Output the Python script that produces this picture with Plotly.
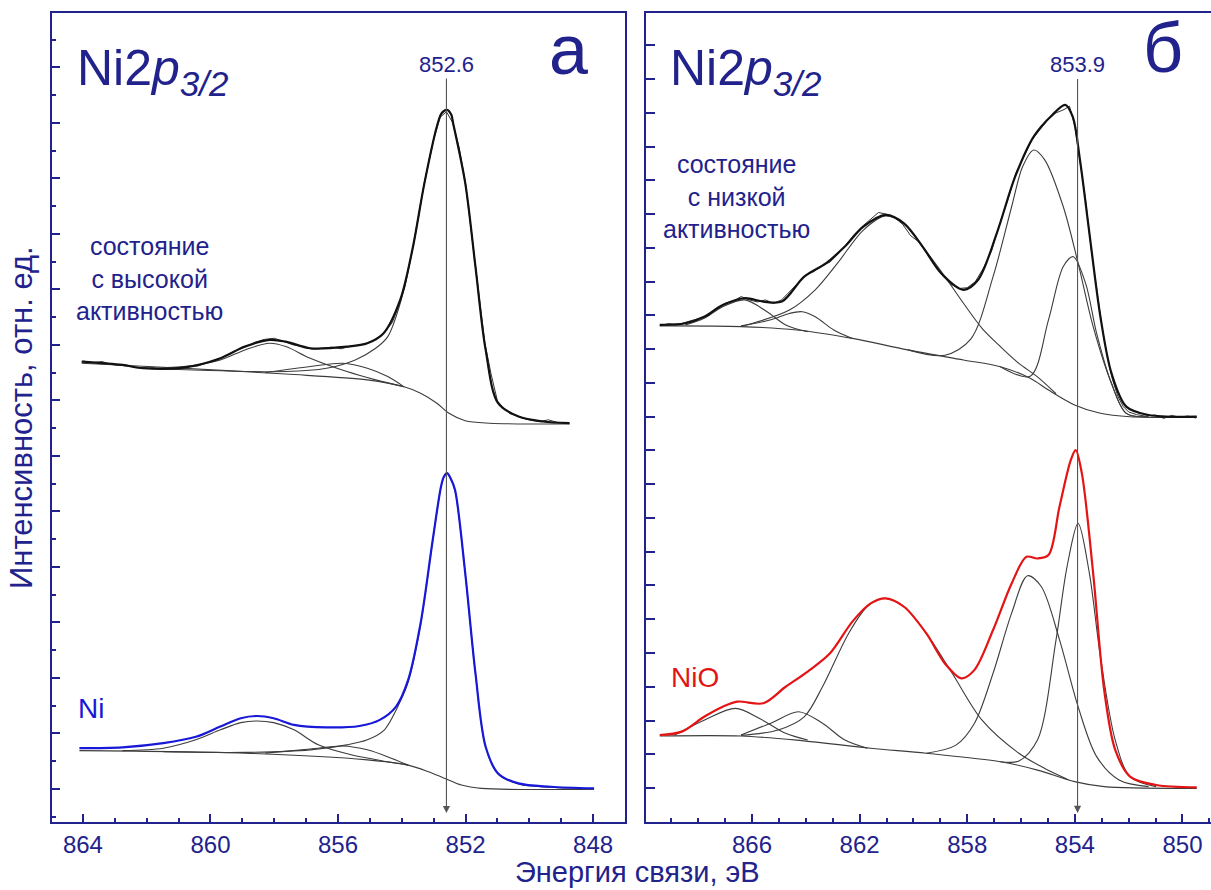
import plotly.graph_objects as go

# ---------------- Panel "а" (binding energy, eV / intensity, rel. units) ----------------
# top: high-activity state
A_TOP_FIT_E = [864.04, 862.76, 862.12, 860.84, 859.69, 858.92, 858.15, 857.64, 856.87, 855.72, 855.08,
               854.57, 854.05, 853.67, 853.29, 852.90, 852.75, 852.58, 852.45, 852.39, 852.01, 851.69,
               851.37, 850.98, 850.34, 849.57, 848.74]
A_TOP_FIT_I = [15.40, 15.28, 15.16, 15.18, 15.52, 15.94, 16.18, 16.12, 15.88, 15.94, 16.06,
               16.42, 17.62, 19.42, 21.83, 23.87, 24.35, 24.47, 24.30, 23.99, 21.83, 18.82,
               15.82, 13.90, 13.42, 13.24, 13.18]
A_TOP_RAW_E = [864.0, 863.7, 863.4, 863.1, 862.8, 862.5, 862.2, 861.9, 861.6, 861.3, 861.0, 860.7, 860.4,
               860.1, 859.8, 859.5, 859.2, 858.9, 858.6, 858.3, 858.0, 857.7, 857.4, 857.1, 856.8, 856.5,
               856.2, 855.9, 855.6, 855.3, 855.0, 854.7, 854.5, 854.3, 854.1, 853.9, 853.6, 853.3, 853.0,
               852.8, 852.6, 852.4, 852.2, 852.0, 851.8, 851.6, 851.4, 851.2, 851.0, 850.8, 850.6, 850.4,
               850.2, 850.0, 849.7, 849.4, 849.1, 848.8]
A_TOP_RAW_I = [15.42, 15.36, 15.40, 15.30, 15.26, 15.22, 15.18, 15.20, 15.14, 15.19, 15.16, 15.22, 15.24,
               15.36, 15.44, 15.62, 15.80, 15.92, 16.10, 16.20, 16.24, 16.12, 16.00, 15.94, 15.84, 15.88,
               15.92, 15.86, 15.96, 16.00, 16.10, 16.30, 16.52, 16.80, 17.40, 18.10, 19.80, 21.80, 23.40,
               24.20, 24.40, 24.00, 23.10, 21.80, 19.90, 17.95, 16.10, 14.95, 13.98, 13.72, 13.52, 13.46,
               13.36, 13.30, 13.24, 13.30, 13.20, 13.18]
A_TOP_BG_E = [864.04, 860.84, 857.64, 855.08, 853.93, 853.41, 852.90, 852.52, 852.01, 851.24, 848.74]
A_TOP_BG_I = [15.34, 15.16, 14.95, 14.74, 14.49, 14.26, 13.90, 13.54, 13.27, 13.18, 13.15]
A_TOP_SAT1_E = [862.12, 860.84, 859.69, 858.92, 858.15, 857.64, 856.87, 855.72, 854.82, 853.93]
A_TOP_SAT1_I = [15.16, 15.22, 15.46, 15.82, 16.06, 15.94, 15.52, 15.04, 14.74, 14.49]
A_TOP_SAT2_E = [858.28, 856.87, 855.85, 855.08, 854.44, 853.93]
A_TOP_SAT2_I = [15.00, 15.22, 15.34, 15.16, 14.86, 14.49]
A_TOP_MAIN_E = [862.12, 857.64, 856.36, 855.46, 854.82, 854.44, 854.05, 853.67, 853.29, 852.90, 852.75,
                852.58, 852.45, 852.39, 852.01, 851.69, 851.37, 850.98, 850.34, 849.57, 848.74]
A_TOP_MAIN_I = [15.16, 15.04, 15.16, 15.46, 15.88, 16.30, 17.50, 19.42, 21.83, 23.87, 24.35,
                24.47, 24.30, 23.99, 21.83, 18.82, 15.82, 13.90, 13.42, 13.24, 13.18]

# bottom: metallic Ni reference
A_NI_E = [864.11, 862.76, 861.48, 860.46, 859.69, 859.05, 858.54, 858.02, 857.38, 856.36, 855.33, 854.69,
          854.18, 853.80, 853.41, 853.03, 852.77, 852.68, 852.58, 852.47, 852.33, 852.01, 851.69, 851.37,
          850.98, 850.34, 849.32, 847.97]
A_NI_I = [1.47, 1.50, 1.65, 1.88, 2.25, 2.55, 2.63, 2.55, 2.31, 2.22, 2.27, 2.49,
          2.97, 3.93, 5.97, 8.97, 10.90, 11.25, 11.38, 11.20, 10.77, 7.77, 4.17, 1.52,
          0.56, 0.20, 0.08, 0.02]
A_BOT_BG_E = [864.11, 858.92, 855.08, 853.80, 853.16, 852.65, 852.13, 851.50, 847.97]
A_BOT_BG_I = [1.38, 1.29, 1.05, 0.86, 0.62, 0.38, 0.14, 0.02, -0.01]
A_BOT_SAT1_E = [862.76, 861.48, 860.46, 859.69, 859.05, 858.54, 858.02, 857.38, 856.62, 855.59, 854.44, 853.80]
A_BOT_SAT1_I = [1.38, 1.47, 1.77, 2.13, 2.39, 2.45, 2.39, 2.13, 1.59, 1.23, 0.98, 0.86]
A_BOT_SAT2_E = [858.28, 856.87, 855.85, 855.08, 854.31, 853.80]
A_BOT_SAT2_I = [1.29, 1.44, 1.55, 1.41, 1.10, 0.86]
A_BOT_MAIN_E = [861.48, 858.92, 856.87, 855.72, 855.08, 854.57, 854.05, 853.80, 853.41, 853.03, 852.77,
                852.68, 852.58, 852.47, 852.33, 852.01, 851.69, 851.37, 850.98, 850.34, 849.32, 847.97]
A_BOT_MAIN_I = [1.34, 1.32, 1.41, 1.59, 1.77, 2.10, 3.15, 3.85, 5.92, 8.95, 10.88,
                11.23, 11.36, 11.18, 10.75, 7.75, 4.15, 1.50, 0.54, 0.18, 0.06, 0.00]

# ---------------- Panel "б" ----------------
# top: low-activity state
B_TOP_FIT_E = [869.43, 868.47, 867.78, 867.09, 866.27, 865.58, 864.89, 864.06, 863.24, 862.55, 861.86,
               861.03, 860.35, 859.66, 858.97, 858.14, 857.60, 856.90, 856.22, 855.53, 854.84, 854.36,
               854.08, 853.81, 853.46, 853.05, 852.64, 852.09, 851.26, 849.47]
B_TOP_FIT_I = [13.72, 13.77, 13.96, 14.31, 14.51, 14.41, 14.41, 15.15, 15.55, 16.04, 16.63,
               16.98, 16.73, 16.04, 15.25, 14.76, 15.05, 16.44, 18.11, 19.30, 19.94, 20.24,
               19.89, 18.61, 16.44, 13.96, 12.29, 11.30, 11.05, 11.00]
B_TOP_RAW_E = [869.4, 869.1, 868.8, 868.5, 868.2, 867.9, 867.6, 867.3, 867.0, 866.7, 866.4, 866.1, 865.8,
               865.5, 865.2, 864.9, 864.6, 864.3, 864.0, 863.7, 863.4, 863.1, 862.8, 862.5, 862.2, 861.9,
               861.6, 861.3, 861.0, 860.7, 860.4, 860.1, 859.8, 859.5, 859.2, 858.9, 858.6, 858.3, 858.0,
               857.7, 857.4, 857.1, 856.8, 856.5, 856.2, 855.9, 855.6, 855.3, 855.0, 854.7, 854.4, 854.2,
               854.0, 853.8, 853.6, 853.4, 853.2, 853.0, 852.8, 852.6, 852.4, 852.2, 852.0, 851.7, 851.4,
               851.0, 850.7, 850.4, 850.1, 849.8, 849.5]
B_TOP_RAW_I = [13.70, 13.76, 13.72, 13.80, 13.86, 13.92, 14.00, 14.20, 14.36, 14.42, 14.56, 14.46, 14.40,
               14.46, 14.36, 14.46, 14.70, 14.96, 15.20, 15.30, 15.48, 15.58, 15.82, 16.10, 16.40, 16.64,
               16.84, 17.05, 17.00, 16.90, 16.70, 16.36, 16.18, 15.84, 15.50, 15.16, 14.92, 14.80, 14.82,
               15.00, 15.40, 15.90, 16.70, 17.40, 18.20, 18.70, 19.20, 19.50, 19.80, 20.00, 20.10, 20.20,
               19.60, 18.50, 17.40, 16.00, 14.80, 13.70, 12.80, 12.10, 11.60, 11.30, 11.14, 11.06, 11.02,
               11.05, 10.95, 11.04, 10.98, 11.02, 10.96]
B_TOP_BG_E = [869.43, 866.41, 864.34, 862.27, 860.21, 858.14, 856.77, 855.66, 854.98, 854.01, 853.05, 851.95, 849.47]
B_TOP_BG_I = [13.69, 13.67, 13.57, 13.32, 12.98, 12.68, 12.48, 12.14, 11.79, 11.35, 11.10, 11.00, 10.98]
B_TOP_C1_E = [868.47, 867.78, 867.09, 866.27, 865.44, 864.75, 863.93]
B_TOP_C1_I = [13.72, 13.92, 14.26, 14.46, 14.11, 13.72, 13.52]
B_TOP_C2_E = [866.41, 865.30, 864.61, 864.13, 863.65, 862.96, 862.27]
B_TOP_C2_I = [13.69, 13.87, 14.06, 14.11, 13.96, 13.57, 13.32]
B_TOP_C3_E = [866.41, 864.61, 863.65, 862.82, 861.86, 861.03, 860.35, 859.66, 858.83, 858.14, 857.45,
              856.77, 856.08, 855.39, 854.70]
B_TOP_C3_I = [13.67, 14.16, 14.76, 15.55, 16.53, 16.95, 16.71, 16.04, 15.15, 14.36, 13.62,
              13.08, 12.58, 12.18, 11.68]
B_TOP_C4_E = [860.21, 858.83, 857.87, 857.04, 856.35, 855.94, 855.53, 855.12, 854.43, 853.88, 853.32,
              852.64, 852.09, 851.26]
B_TOP_C4_I = [12.98, 12.82, 13.30, 15.15, 17.22, 18.41, 18.90, 18.61, 17.22, 15.55, 13.67,
              11.99, 11.10, 11.00]
B_TOP_C5_E = [856.77, 855.66, 854.98, 854.43, 854.06, 853.60, 853.19, 852.64, 852.09, 851.26]
B_TOP_C5_I = [12.48, 12.20, 13.87, 15.45, 15.74, 14.95, 13.47, 11.99, 11.10, 11.00]

# bottom: NiO reference
B_NIO_E = [869.43, 868.61, 867.78, 867.09, 866.54, 865.58, 864.75, 863.93, 863.10, 862.27, 861.59,
           861.03, 860.35, 859.52, 858.83, 858.21, 857.73, 857.04, 856.35, 855.80, 855.39, 854.98,
           854.57, 854.15, 853.97, 853.74, 853.32, 852.91, 852.50, 851.95, 850.98, 849.47]
B_NIO_I = [1.57, 1.67, 2.11, 2.41, 2.56, 2.51, 3.00, 3.45, 3.99, 4.93, 5.47,
           5.62, 5.37, 4.58, 3.69, 3.25, 3.50, 4.68, 6.06, 6.85, 6.80, 6.90,
           8.34, 9.72, 10.01, 9.32, 6.36, 2.90, 1.13, 0.34, 0.09, 0.02]
B_BOT_BG_E = [869.43, 866.41, 864.34, 861.59, 859.52, 856.77, 855.39, 854.01, 852.91, 849.47]
B_BOT_BG_I = [1.54, 1.54, 1.42, 1.18, 1.03, 0.78, 0.53, 0.19, 0.04, -0.01]
B_BOT_C1_E = [868.88, 867.78, 866.61, 865.72, 864.75, 863.93]
B_BOT_C1_I = [1.57, 2.01, 2.36, 2.06, 1.62, 1.42]
B_BOT_C2_E = [866.41, 865.30, 864.27, 863.38, 862.55, 861.72]
B_BOT_C2_I = [1.57, 1.92, 2.26, 1.92, 1.42, 1.18]
B_BOT_C3_E = [866.41, 865.03, 864.06, 863.38, 862.41, 861.72, 861.10, 860.35, 859.52, 858.56, 857.45,
              856.08, 855.12, 854.30]
B_BOT_C3_I = [1.56, 1.72, 2.11, 3.00, 4.58, 5.37, 5.62, 5.37, 4.58, 3.40, 2.01,
              1.03, 0.58, 0.27]
B_BOT_C4_E = [859.52, 858.42, 857.73, 857.04, 856.35, 855.76, 855.25, 854.57, 853.88, 853.19, 852.36, 851.26]
B_BOT_C4_I = [1.03, 1.27, 1.92, 3.40, 5.18, 6.29, 5.97, 4.39, 2.41, 0.93, 0.24, 0.04]
B_BOT_C5_E = [856.77, 856.08, 855.39, 854.70, 854.29, 853.88, 853.46, 853.05, 852.50, 851.95, 850.98]
B_BOT_C5_I = [0.78, 0.80, 1.42, 4.39, 6.56, 7.84, 6.36, 3.89, 1.42, 0.34, 0.04]

PEAK_A = 852.6
PEAK_B = 853.9
A_TICKS = [864, 860, 856, 852, 848]
B_TICKS = [866, 862, 858, 854, 850]

NAVY = "#22228c"
BLUE = "#1818d8"
RED = "#e41414"
FONT = "Liberation Sans, Arial, sans-serif"
W, H = 1211, 890

fig = go.Figure()


def add_line(x, y, xa, ya, color, width, shape="spline"):
    fig.add_trace(go.Scatter(x=x, y=y, xaxis=xa, yaxis=ya, mode="lines",
                             line=dict(color=color, width=width, shape=shape, smoothing=0.9),
                             hoverinfo="skip", showlegend=False))


COMP = "#3c3c3c"
# panel а components
for ex, iy in [(A_TOP_BG_E, A_TOP_BG_I), (A_TOP_SAT1_E, A_TOP_SAT1_I), (A_TOP_SAT2_E, A_TOP_SAT2_I),
               (A_TOP_MAIN_E, A_TOP_MAIN_I), (A_BOT_BG_E, A_BOT_BG_I), (A_BOT_SAT1_E, A_BOT_SAT1_I),
               (A_BOT_SAT2_E, A_BOT_SAT2_I), (A_BOT_MAIN_E, A_BOT_MAIN_I)]:
    add_line(ex, iy, "x", "y", COMP, 1.1)
add_line(A_TOP_RAW_E, A_TOP_RAW_I, "x", "y", "#333333", 1.0, "linear")
add_line(A_TOP_FIT_E, A_TOP_FIT_I, "x", "y", "#111111", 2.2)
add_line(A_NI_E, A_NI_I, "x", "y", BLUE, 2.2)

# panel б components
for ex, iy in [(B_TOP_BG_E, B_TOP_BG_I), (B_TOP_C1_E, B_TOP_C1_I), (B_TOP_C2_E, B_TOP_C2_I),
               (B_TOP_C3_E, B_TOP_C3_I), (B_TOP_C4_E, B_TOP_C4_I), (B_TOP_C5_E, B_TOP_C5_I),
               (B_BOT_BG_E, B_BOT_BG_I), (B_BOT_C1_E, B_BOT_C1_I), (B_BOT_C2_E, B_BOT_C2_I),
               (B_BOT_C3_E, B_BOT_C3_I), (B_BOT_C4_E, B_BOT_C4_I), (B_BOT_C5_E, B_BOT_C5_I)]:
    add_line(ex, iy, "x2", "y2", COMP, 1.1)
add_line(B_TOP_RAW_E, B_TOP_RAW_I, "x2", "y2", "#333333", 1.0, "linear")
add_line(B_TOP_FIT_E, B_TOP_FIT_I, "x2", "y2", "#111111", 2.2)
add_line(B_NIO_E, B_NIO_I, "x2", "y2", RED, 2.2)

ydom = [1 - 822 / H, 1 - 13 / H]
xa_common = dict(showline=True, linecolor=NAVY, linewidth=2, mirror=True, ticks="inside",
                 tickcolor=NAVY, tickwidth=2, ticklen=8, showgrid=False, zeroline=False,
                 tickfont=dict(family=FONT, size=24, color=NAVY),
                 minor=dict(dtick=1, ticks="inside", ticklen=4, tickcolor=NAVY, tickwidth=1.5, showgrid=False))
fig.update_layout(
    width=W, height=H, margin=dict(l=0, r=0, t=0, b=0),
    paper_bgcolor="white", plot_bgcolor="white", showlegend=False,
    xaxis=dict(xa_common, domain=[52 / W, 625 / W], range=[864.97, 847.0], anchor="y",
               tickmode="array", tickvals=A_TICKS),
    xaxis2=dict(xa_common, domain=[646 / W, 1.0], range=[869.94, 848.94], anchor="y2",
                tickmode="array", tickvals=B_TICKS),
    yaxis=dict(domain=ydom, range=[-1.19, 27.96], anchor="x", showline=True, linecolor=NAVY, linewidth=2,
               mirror=True, ticks="inside", tickcolor=NAVY, tickwidth=2, ticklen=8, tick0=0, dtick=2,
               showticklabels=False, showgrid=False, zeroline=False,
               minor=dict(dtick=1, ticks="inside", ticklen=4, tickcolor=NAVY, tickwidth=1.5, showgrid=False)),
    yaxis2=dict(domain=ydom, range=[-1.007, 22.96], anchor="x2", showline=True, linecolor=NAVY, linewidth=2,
                mirror=False, ticks="inside", tickcolor=NAVY, tickwidth=2, ticklen=9, tick0=0, dtick=1,
                showticklabels=False, showgrid=False, zeroline=False),
)


def ptext(px, py, text, size, color=NAVY, xanchor="center", yanchor="middle", angle=0):
    fig.add_annotation(x=px / W, y=1 - py / H, xref="paper", yref="paper", text=text, showarrow=False,
                       xanchor=xanchor, yanchor=yanchor, textangle=angle,
                       font=dict(family=FONT, size=size, color=color))


# peak markers: label at the arrow tail, arrow pointing down to the energy axis
for peak, xr, yr, ybot, ylab in [(PEAK_A, "x", "y", -0.87, 26.1), (PEAK_B, "x2", "y2", -0.74, 21.42)]:
    fig.add_annotation(x=peak, y=ybot, ax=peak, ay=ylab, xref=xr, yref=yr, axref=xr, ayref=yr,
                       text=f"{peak:.1f}", showarrow=True, arrowhead=2, arrowsize=1.3, arrowwidth=1.1,
                       arrowcolor="#555555", standoff=0,
                       font=dict(family=FONT, size=22, color=NAVY))

ptext(75, 72, "Ni2<i>p</i><sub><i>3/2</i></sub>", 50, xanchor="left")
ptext(668, 72, "Ni2<i>p</i><sub><i>3/2</i></sub>", 50, xanchor="left")
ptext(568, 50, "а", 70)
ptext(1163, 48, "б", 70)
ptext(149, 279, "состояние<br>с высокой<br>активностью", 25)
ptext(736, 196, "состояние<br>с низкой<br>активностью", 25)
ptext(76, 708, "Ni", 28, color=BLUE, xanchor="left")
ptext(669, 677, "NiO", 28, color=RED, xanchor="left")
ptext(637, 872, "Энергия связи, эВ", 29)
ptext(22, 418, "Интенсивность, отн. ед.", 31, angle=-90)

fig.write_html("out.html")
